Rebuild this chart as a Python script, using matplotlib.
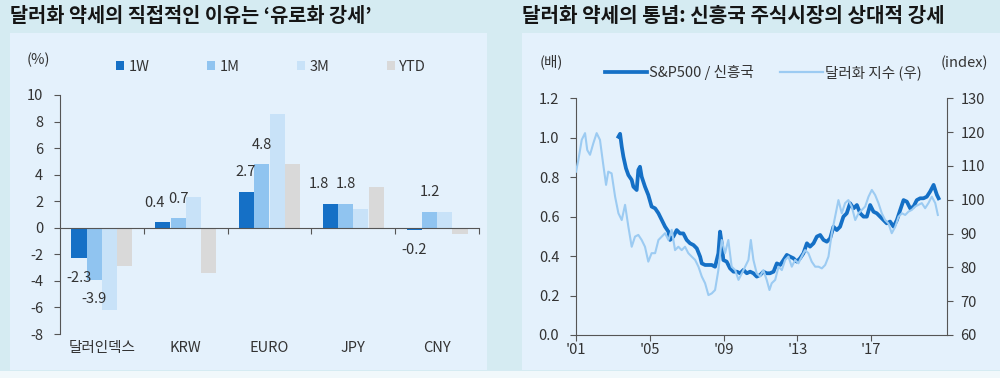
import matplotlib
matplotlib.use("Agg")
import matplotlib.pyplot as plt
from matplotlib.patches import Rectangle, Patch
from matplotlib.lines import Line2D
import matplotlib.transforms as mtransforms
import numpy as np

plt.rcParams['font.family'] = ['Noto Sans CJK KR', 'DejaVu Sans']
plt.rcParams['axes.unicode_minus'] = False

# ---------------- data: left chart ----------------
categories = ['달러인덱스', 'KRW', 'EURO', 'JPY', 'CNY']
series_names = ['1W', '1M', '3M', 'YTD']
val_1w = [-2.3, 0.4, 2.7, 1.8, -0.2]
val_1m = [-3.9, 0.7, 4.8, 1.8, 1.2]
val_3m = [-6.2, 2.3, 8.6, 1.4, 1.2]
val_ytd = [-2.9, -3.4, 4.8, 3.1, -0.5]
left_yticks = [-8, -6, -4, -2, 0, 2, 4, 6, 8, 10]

# ---------------- data: right chart ----------------
dxy_years = [2001.00, 2001.13, 2001.31, 2001.49, 2001.61, 2001.76, 2001.94, 2002.12, 2002.30, 2002.48,
             2002.63, 2002.75, 2002.93, 2003.12, 2003.30, 2003.48, 2003.66, 2003.84, 2004.02, 2004.20,
             2004.38, 2004.56, 2004.74, 2004.92, 2005.10, 2005.29, 2005.47, 2005.65, 2005.83, 2006.01,
             2006.19, 2006.37, 2006.55, 2006.73, 2006.91, 2007.09, 2007.27, 2007.46, 2007.64, 2007.82,
             2008.00, 2008.18, 2008.36, 2008.54, 2008.72, 2008.90, 2009.08, 2009.26, 2009.44, 2009.63,
             2009.81, 2009.99, 2010.17, 2010.35, 2010.48, 2010.62, 2010.80, 2010.98, 2011.16, 2011.34,
             2011.49, 2011.61, 2011.80, 2011.98, 2012.16, 2012.34, 2012.52, 2012.70, 2012.88, 2013.06,
             2013.24, 2013.42, 2013.60, 2013.78, 2013.97, 2014.15, 2014.33, 2014.51, 2014.69, 2014.87,
             2015.05, 2015.23, 2015.41, 2015.59, 2015.77, 2015.95, 2016.14, 2016.32, 2016.50, 2016.68,
             2016.86, 2017.04, 2017.22, 2017.40, 2017.58, 2017.76, 2017.94, 2018.12, 2018.31, 2018.49,
             2018.67, 2018.85, 2019.03, 2019.21, 2019.39, 2019.57, 2019.75, 2019.93, 2020.11, 2020.29,
             2020.48, 2020.62]
dxy_values = [108.3, 111.8, 117.7, 119.7, 114.7, 113.3, 116.7, 119.7, 117.7, 110.3,
              104.4, 108.3, 107.8, 100.9, 96.0, 94.0, 98.5, 92.0, 86.1, 89.1,
              89.6, 88.1, 86.1, 81.7, 84.2, 84.2, 88.1, 89.1, 90.1, 88.1,
              91.1, 85.1, 86.1, 85.1, 86.1, 84.2, 83.2, 82.2, 80.2, 77.3,
              75.3, 71.8, 72.3, 73.3, 79.2, 88.1, 84.2, 88.1, 80.2, 79.2,
              76.3, 78.2, 80.2, 82.2, 88.1, 82.2, 78.2, 77.3, 79.2, 76.3,
              73.3, 75.3, 76.3, 80.2, 79.2, 82.2, 83.2, 80.2, 82.2, 81.2,
              83.2, 85.1, 84.2, 81.7, 80.2, 80.2, 79.7, 80.7, 83.2, 90.1,
              95.0, 99.9, 96.0, 99.0, 99.9, 98.0, 94.0, 96.0, 97.0, 98.0,
              100.9, 102.9, 101.4, 99.0, 96.0, 94.0, 93.0, 90.1, 92.0, 95.0,
              96.0, 95.5, 96.5, 97.0, 98.0, 98.5, 99.0, 97.5, 99.0, 100.9,
              99.0, 95.5]

ratio_years = [2003.30, 2003.39, 2003.48, 2003.57, 2003.71, 2003.84, 2004.02, 2004.11, 2004.29, 2004.38,
               2004.47, 2004.56, 2004.74, 2004.92, 2005.10, 2005.29, 2005.47, 2005.65, 2005.83, 2006.01,
               2006.10, 2006.28, 2006.46, 2006.64, 2006.82, 2007.00, 2007.18, 2007.37, 2007.55, 2007.73,
               2007.82, 2008.00, 2008.18, 2008.36, 2008.54, 2008.72, 2008.81, 2008.90, 2008.99, 2009.17,
               2009.35, 2009.54, 2009.72, 2009.90, 2010.08, 2010.26, 2010.44, 2010.62, 2010.80, 2010.98,
               2011.16, 2011.34, 2011.52, 2011.71, 2011.89, 2012.07, 2012.25, 2012.43, 2012.61, 2012.79,
               2012.97, 2013.15, 2013.33, 2013.52, 2013.69, 2013.88, 2014.06, 2014.24, 2014.42, 2014.60,
               2014.78, 2014.96, 2015.14, 2015.32, 2015.50, 2015.68, 2015.86, 2016.05, 2016.23, 2016.41,
               2016.59, 2016.77, 2016.95, 2017.13, 2017.31, 2017.49, 2017.67, 2017.85, 2018.03, 2018.22,
               2018.40, 2018.58, 2018.76, 2018.94, 2019.12, 2019.30, 2019.48, 2019.66, 2019.84, 2020.02,
               2020.20, 2020.39, 2020.48, 2020.57, 2020.66]
ratio_values = [1.005, 1.02, 0.955, 0.904, 0.845, 0.811, 0.786, 0.752, 0.735, 0.837,
                0.853, 0.803, 0.752, 0.71, 0.651, 0.642, 0.617, 0.583, 0.549, 0.524,
                0.482, 0.499, 0.532, 0.515, 0.515, 0.482, 0.465, 0.456, 0.439, 0.397,
                0.363, 0.355, 0.355, 0.355, 0.346, 0.414, 0.524, 0.465, 0.38, 0.372,
                0.338, 0.321, 0.321, 0.313, 0.33, 0.313, 0.321, 0.313, 0.296, 0.304,
                0.321, 0.313, 0.313, 0.321, 0.363, 0.355, 0.38, 0.406, 0.397, 0.389,
                0.372, 0.389, 0.414, 0.465, 0.448, 0.465, 0.499, 0.507, 0.482, 0.473,
                0.49, 0.549, 0.532, 0.549, 0.6, 0.617, 0.668, 0.642, 0.659, 0.617,
                0.6, 0.6, 0.659, 0.625, 0.617, 0.6, 0.583, 0.566, 0.575, 0.549,
                0.583, 0.634, 0.684, 0.676, 0.642, 0.651, 0.684, 0.693, 0.693, 0.701,
                0.727, 0.761, 0.735, 0.71, 0.693]
right_xticks = [2001, 2005, 2009, 2013, 2017]
right_xticklabels = ["'01", "'05", "'09", "'13", "'17"]
left_axis_ticks = [0.0, 0.2, 0.4, 0.6, 0.8, 1.0, 1.2]
right_axis_ticks = [60, 70, 80, 90, 100, 110, 120, 130]

# ---------------- styling ----------------
W, H = 1000, 378
OUTER = '#d5ebf2'
PANEL = '#e4f1fc'
TXT = '#333333'
SPINE = '#555555'
C1W, C1M, C3M, CYTD = '#1570c6', '#90c4f0', '#c8e2f8', '#d9d9d9'
DARK, LIGHT = '#1570c6', '#9ccbf2'
FS = 10.5

fig = plt.figure(figsize=(W / 100, H / 100), dpi=100, facecolor=OUTER)

def fx(px):
    return px / W

def fy(py):
    return 1 - py / H

# panels (behind everything)
fig.patches.append(Rectangle((fx(10), fy(370)), fx(477), (370 - 33) / H,
                             transform=fig.transFigure, facecolor=PANEL, edgecolor='none', zorder=-10))
fig.patches.append(Rectangle((fx(522), fy(370)), fx(478), (370 - 33) / H,
                             transform=fig.transFigure, facecolor=PANEL, edgecolor='none', zorder=-10))
fig.patches.append(Rectangle((0, 0), 1, 7 / H, transform=fig.transFigure,
                             facecolor='#f1f8fb', edgecolor='none', zorder=-10))

# titles
fig.text(fx(10), fy(16), "달러화 약세의 직접적인 이유는 ‘유로화 강세’", fontsize=14.2,
         fontweight='heavy', color='#151515', ha='left', va='center')
fig.text(fx(522), fy(16), "달러화 약세의 통념: 신흥국 주식시장의 상대적 강세", fontsize=14.5,
         fontweight='heavy', color='#151515', ha='left', va='center')

# ---------------- left chart ----------------
axL = fig.add_axes([fx(60), fy(334), fx(479 - 60), (334 - 95) / H])
axL.set_facecolor('none')
x = np.arange(len(categories))
bw = 0.18
step = 0.182
all_vals = [val_1w, val_1m, val_3m, val_ytd]
colors = [C1W, C1M, C3M, CYTD]
for i, (vals, c, nm) in enumerate(zip(all_vals, colors, series_names)):
    axL.bar(x + (i - 1.5) * step, vals, width=bw, color=c, label=nm, zorder=2)

axL.set_xlim(-0.5, 4.5)
axL.set_ylim(-8, 10)
axL.set_yticks(left_yticks)
axL.set_yticklabels([str(v) for v in left_yticks])
for s in ['top', 'right']:
    axL.spines[s].set_visible(False)
axL.spines['bottom'].set_position(('data', 0))
axL.spines['bottom'].set_color(SPINE)
axL.spines['bottom'].set_zorder(3)
axL.spines['left'].set_color(SPINE)
axL.set_xticks(np.arange(0.5, 5.0, 1.0))
axL.set_xticklabels([])
axL.tick_params(axis='x', direction='out', length=4, color=SPINE)
axL.tick_params(axis='y', direction='out', length=4, pad=8, labelsize=FS, color=SPINE, labelcolor=TXT)

trans = mtransforms.blended_transform_factory(axL.transData, axL.transAxes)
for xi, cat in zip(x, categories):
    axL.text(xi, -0.03, cat, transform=trans, ha='center', va='top', fontsize=FS, color=TXT)

# value labels for 1W and 1M
label_shift = {(0, 1): -6, (0, 3): -8, (0, 2): -1}
for si, vals in enumerate([val_1w, val_1m]):
    for ci, v in enumerate(vals):
        dx = label_shift.get((si, ci), 0)
        dy = 14 if v >= 0 else -14
        axL.annotate(f"{v:.1f}", xy=(x[ci] + (si - 1.5) * step, v), xytext=(dx, dy),
                     textcoords='offset points', ha='center', va='center', fontsize=FS, color=TXT)

fig.text(fx(38), fy(60), "(%)", ha='center', va='center', fontsize=FS, color=TXT)
handles = [Patch(facecolor=c, edgecolor='none') for c in colors]
fig.legend(handles, series_names, loc='center left', bbox_to_anchor=(fx(116), fy(67)), ncol=4,
           frameon=False, handlelength=0.55, handleheight=0.55, handletextpad=0.3,
           columnspacing=3.95, fontsize=FS, labelcolor=TXT, borderpad=0, borderaxespad=0)

# ---------------- right chart ----------------
axR = fig.add_axes([fx(576), fy(335), fx(946.7 - 576), (335 - 98.3) / H])
axR.set_facecolor('none')
axR.plot(ratio_years, ratio_values, color=DARK, lw=2.7, solid_joinstyle='round')
axR.set_xlim(2001, 2021.1)
axR.set_ylim(0, 1.2)
axR.set_yticks(left_axis_ticks)
axR.set_yticklabels([f"{v:.1f}" for v in left_axis_ticks])
axR.set_xticks(right_xticks)
axR.set_xticklabels(right_xticklabels)
axR.spines['top'].set_visible(False)
axR.spines['right'].set_visible(False)
for s in ['left', 'bottom']:
    axR.spines[s].set_color(SPINE)
axR.tick_params(axis='y', direction='out', length=4, pad=8, labelsize=FS, color=SPINE, labelcolor=TXT)
axR.tick_params(axis='x', direction='out', length=4, pad=2, labelsize=FS, color=SPINE, labelcolor=TXT)

axR2 = axR.twinx()
axR2.set_facecolor('none')
axR2.plot(dxy_years, dxy_values, color=LIGHT, lw=1.5)
axR2.set_ylim(60, 130)
axR2.set_yticks(right_axis_ticks)
axR2.spines['top'].set_visible(False)
axR2.spines['left'].set_visible(False)
axR2.spines['bottom'].set_visible(False)
axR2.spines['right'].set_color(SPINE)
axR2.tick_params(axis='y', direction='out', length=4, pad=6, labelsize=FS, color=SPINE, labelcolor=TXT)

fig.text(fx(551), fy(62), "(배)", ha='center', va='center', fontsize=FS, color=TXT)
fig.text(fx(964), fy(63), "(index)", ha='center', va='center', fontsize=FS, color=TXT)
fig.legend([Line2D([0], [0], color=DARK, lw=2.7), Line2D([0], [0], color=LIGHT, lw=1.6)],
           ["S&P500 / 신흥국", "달러화 지수 (우)"], loc='center left',
           bbox_to_anchor=(fx(605), fy(73)), ncol=2, frameon=False, handlelength=2.9,
           handletextpad=0.15, columnspacing=1.8, fontsize=FS, labelcolor=TXT,
           borderpad=0, borderaxespad=0)

fig.savefig("out.png", dpi=100, facecolor=OUTER)
